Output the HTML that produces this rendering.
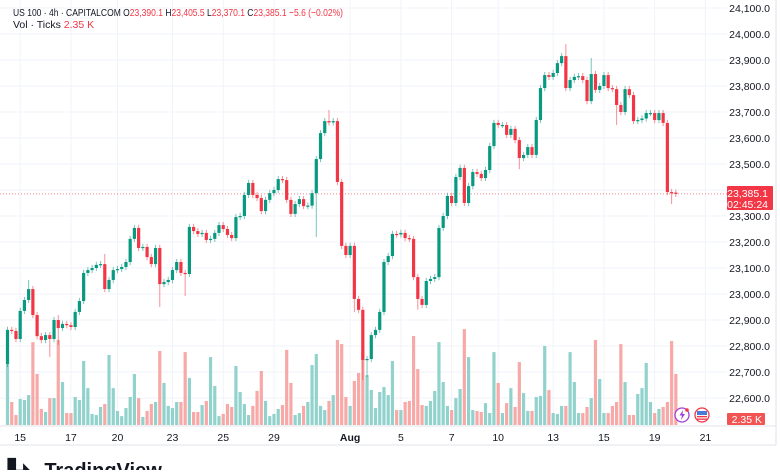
<!DOCTYPE html>
<html><head><meta charset="utf-8">
<style>
html,body{margin:0;padding:0;background:#fff;}
body{width:780px;height:470px;overflow:hidden;position:relative;font-family:"Liberation Sans",sans-serif;}
svg text{font-family:"Liberation Sans",sans-serif;}
</style></head>
<body>
<svg id="chart" width="780" height="470" viewBox="0 0 780 470" xmlns="http://www.w3.org/2000/svg">
  <g id="grid"></g>
  <g id="vol"></g>
  <line id="pline" x1="0" x2="727" stroke="#f23645" stroke-width="1" stroke-dasharray="1,2" opacity="0.6"/>
  <g id="candles"></g>
  <g id="yaxis"></g>
  <g id="xaxis"></g>
  <line x1="0" x2="776" y1="426" y2="426" stroke="#e0e3eb"/>
  <line x1="0" x2="776" y1="445" y2="445" stroke="#e0e3eb"/>
  <line x1="776" x2="776" y1="0" y2="445" stroke="#e0e3eb"/>
  <text x="13" y="16" font-size="10.5" fill="#131722" textLength="330" lengthAdjust="spacingAndGlyphs">US 100 · 4h · CAPITALCOM O<tspan fill="#f23645">23,390.1</tspan> H<tspan fill="#f23645">23,405.5</tspan> L<tspan fill="#f23645">23,370.1</tspan> C<tspan fill="#f23645">23,385.1 −5.6 (−0.02%)</tspan></text>
  <text x="13" y="28" font-size="10.5" fill="#131722">Vol · Ticks <tspan fill="#f23645">2.35 K</tspan></text>
  <g>
    <rect x="727" y="186" width="46" height="24" fill="#f23645" rx="1"/>
    <text x="768" y="197" font-size="10.5" fill="#fff" text-anchor="end">23,385.1</text>
    <text x="768" y="208" font-size="10.5" fill="#fff" text-anchor="end">02:45:24</text>
  </g>
  <g>
    <rect x="727" y="413" width="38" height="12" fill="#f25454" rx="1"/>
    <text x="762" y="423" font-size="10.5" fill="#fff" text-anchor="end">2.35 K</text>
  </g>
  <g>
    <circle cx="682" cy="415" r="7" fill="#fff" stroke="#a33fd6" stroke-width="1.3"/>
    <path d="M683,410 L679.5,415.5 L682,415.5 L681,420 L685,414 L682.5,414 Z" fill="#a33fd6"/>
    <circle cx="687" cy="410" r="1.8" fill="#f23645"/>
  </g>
  <g>
    <circle cx="702" cy="415" r="7" fill="#fff" stroke="#f23645" stroke-width="1.3"/>
    <rect x="697" y="411" width="10" height="4" fill="#4a7bd6"/>
    <rect x="697" y="416" width="10" height="1.3" fill="#f23645"/>
    <rect x="697" y="418.5" width="10" height="1.3" fill="#f23645"/>
  </g>
  <text x="8" y="477" font-size="20" font-weight="bold" fill="#131722">▙◣ TradingView</text>
</svg>
<script>
const closes=[22862,22858,22827,22935,22977,23019,22919,22838,22823,22842,22827,22900,22869,22885,22880,22873,22931,22973,23081,23092,23100,23112,23115,23019,23054,23092,23096,
23104,23123,23212,23254,23177,23181,23142,23115,23177,23038,23046,23054,23092,23123,23081,23077,23258,23242,23231,23235,23208,23212,23235,23265,23250,23227,23215,23296,
23300,23381,23427,23381,23369,23319,23362,23388,23400,23442,23438,23362,23308,23346,23365,23338,23340,23388,23519,23619,23665,23660,23665,23431,23185,23150,23185,22981,
22939,22746,22750,22842,22862,22931,23123,23146,23231,23229,23235,23215,23212,23065,22981,22958,23050,23058,23065,23254,23300,23377,23350,23450,23485,23350,23415,23469,23462,23446,23477,23569,23658,23650,23650,23612,23635,23592,23523,23535,23565,23535,23669,23792,23842,23835,23850,23888,23915,23792,23823,23835,23838,23823,23742,23846,23785,23800,23842,23792,23788,23727,23700,23788,23765,23665,23669,23675,23696,23696,23669,23696,23658,23392,23390,23385];
const firstOpen=22731;
const spikeIdx=[5,10,12,12,23,36,42,73,76,82,84,85,131,132,138,157,96,97,121,144];
const spikeVal=[23054,22758,22804,22919,23154,22950,22992,23219,23708,22931,22669,22680,23927,23961,23908,23346,23160,22940,23480,23650];
const vols=[2.86,1.06,0.46,1.2,1.15,1.38,3.82,2.35,0.74,0.6,1.24,1.24,3.92,1.98,0.55,0.55,1.29,1.15,2.95,1.7,0.51,0.46,0.83,0.97,3.23,1.7,0.65,
0.41,0.78,1.29,2.35,1.24,0.37,0.65,0.97,1.06,3.41,1.94,0.88,0.78,1.06,1.06,3.36,2.17,0.6,0.6,0.92,1.11,3.13,1.8,0.41,0.51,0.97,0.83,2.72,
1.52,0.97,0.46,0.88,1.57,2.49,1.11,0.41,0.51,0.74,0.92,3.46,1.94,0.46,0.55,0.88,1.06,2.76,3.27,0.88,0.69,1.11,1.38,3.92,3.73,1.29,0.88,2.03,
2.4,3.36,2.3,1.61,0.78,1.52,1.75,1.38,2.95,0.69,0.69,1.06,1.11,4.1,2.58,0.92,0.88,1.11,1.57,3.82,1.98,0.88,0.69,1.24,1.66,4.42,3.13,0.69,0.65,0.6,1.01,0.55,3.36,1.94,0.55,1.01,1.7,0.83,2.9,1.47,0.65,0.65,1.29,1.34,3.64,1.61,0.55,0.51,0.88,0.88,3.36,1.98,0.55,0.55,0.83,1.24,3.92,2.12,0.55,0.55,0.88,1.06,3.73,1.98,0.46,0.46,1.43,1.7,2.86,1.06,0.55,0.74,0.83,1.06,3.87,2.35];
const priceTicks=[24100,24000,23900,23800,23700,23600,23500,23400,23300,23200,23100,23000,22900,22800,22700,22600];
const timeLabels=["15","17","20","23","25","29","Aug","5","7","10","13","15","19","21"];
const timeIdx=[3,15,26,39,51,63,81,93,105,116,129,141,153,165];
const lastPrice=23385.1;

const NS="http://www.w3.org/2000/svg";
function py(p){return 8+(24100-p)*0.26;}
function px(i){return 7.5+i*4.23;}
function vy(v){return 425-v*21.7;}
function mk(tag,attrs,parent){const e=document.createElementNS(NS,tag);for(const k in attrs)e.setAttribute(k,attrs[k]);parent.appendChild(e);return e;}
const grid=document.getElementById('grid'),vol=document.getElementById('vol'),cg=document.getElementById('candles'),ya=document.getElementById('yaxis'),xa=document.getElementById('xaxis');
priceTicks.forEach(p=>{
  const l=mk('line',{x1:0,x2:727,y1:py(p),y2:py(p),stroke:'#f0f3fa'},grid);
  
  
  const t=mk('text',{x:770,y:py(p)+4,'font-size':10.5,fill:'#131722','text-anchor':'end'},ya);
  
  
  t.textContent=p.toLocaleString('en-US')+'.0';
});
timeLabels.forEach((s,k)=>{
  const x=px(timeIdx[k]);
  const l=mk('line',{x1:x,x2:x,y1:0,y2:426,stroke:'#f0f3fa'},grid);
  
  
  const t=mk('text',{x:x,y:441,'font-size':10.5,fill:'#131722','text-anchor':'middle'},xa);
  
  
  if(s==='Aug')t.setAttribute('font-weight','bold');
  t.textContent=s;
});
const pl=document.getElementById('pline');pl.setAttribute('y1',py(lastPrice));pl.setAttribute('y2',py(lastPrice));
closes.forEach((c,i)=>{
  const o=i===0?firstOpen:closes[i-1];
  let hi=Math.max(o,c)+12,lo=Math.min(o,c)-12;
  spikeIdx.forEach((si,k)=>{if(si===i){const v=spikeVal[k];if(v>Math.max(o,c))hi=Math.max(hi,v);else lo=Math.min(lo,v);}});
  const up=c>=o,col=up?'#089981':'#f23645',x=px(i);
  if(vols[i]!==undefined){
    const b=mk('rect',{x:x-1.6,y:vy(vols[i]),width:3.2,height:425-vy(vols[i]),fill:up?'#92d2cc':'#f7a9a7'},vol);
    
    
  }
  const w=mk('line',{x1:x,x2:x,y1:py(hi),y2:py(lo),stroke:col,'stroke-width':1,opacity:0.55},cg);
  
  
  const top=py(Math.max(o,c)),h=Math.max(1.2,py(Math.min(o,c))-top);
  const r=mk('rect',{x:x-1.6,y:top,width:3.2,height:h,fill:col},cg);
  
  
});
</script>
</body></html>
